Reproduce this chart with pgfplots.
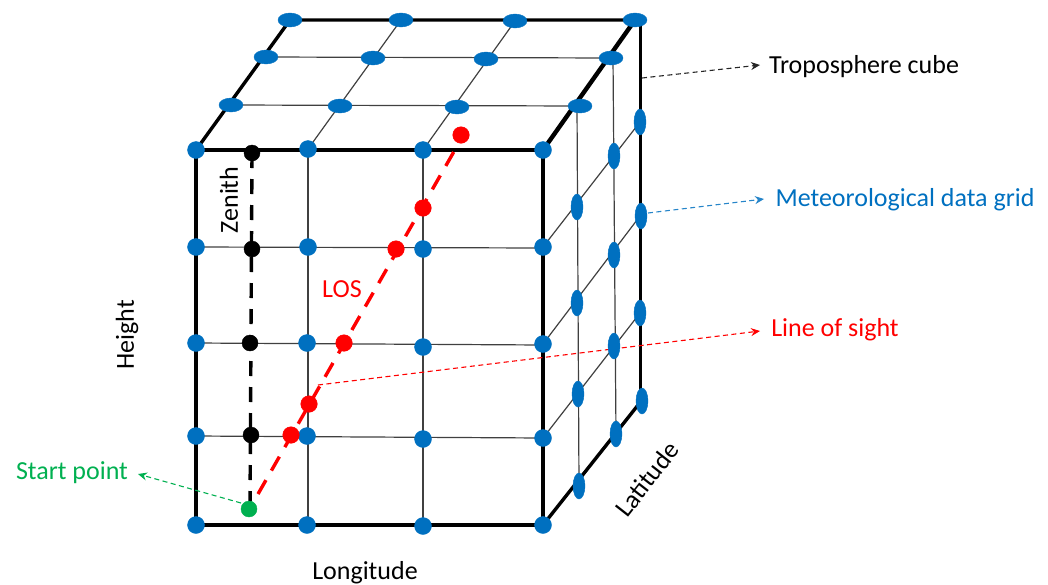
\documentclass[border=0pt]{standalone}
\usepackage{fontspec}
\setmainfont{Carlito}
\usepackage{pgfplots}
\pgfplotsset{compat=1.18}
\usetikzlibrary{arrows.meta}
\definecolor{gridblue}{HTML}{0070C0}
\definecolor{startgreen}{HTML}{00B050}
\definecolor{gridgray}{HTML}{404040}
\pgfplotsset{
  thin line/.style={gridgray,line width=1.2pt,no markers},
  heavy/.style={black,line width=3.4pt,no markers,line cap=round},
  leader/.style={line width=1.1pt,no markers,dash pattern=on 5pt off 3.5pt,-{Stealth[length=9pt,width=8pt]}},
}
\tikzset{lbl/.style={font=\fontsize{26}{28}\selectfont,inner sep=0pt}}
\begin{document}
\begin{tikzpicture}
\begin{axis}[
    scale only axis,
    width=1048pt,height=582pt,
    xmin=0,xmax=1048,ymin=0,ymax=582,
    y dir=reverse,
    axis lines=none,
    clip=false,
]
% keeps the page at the full canvas
\addplot[draw=none,no markers] coordinates {(0,0) (1048,582)};
% thin grid, top face
\addplot[thin line] coordinates {(266,57) (611,58)};
\addplot[thin line] coordinates {(231,105) (580,106)};
\addplot[thin line] coordinates {(308,149) (401,20)};
\addplot[thin line] coordinates {(423,150) (515,21)};
% thin grid, front face
\addplot[thin line] coordinates {(196,247) (543,248)};
\addplot[thin line] coordinates {(196,343) (543,345)};
\addplot[thin line] coordinates {(196,436) (543,438)};
\addplot[thin line] coordinates {(308,149) (308,525)};
\addplot[thin line] coordinates {(423,150) (423,526)};
% thin grid, side face
\addplot[thin line] coordinates {(577,106) (579,486)};
\addplot[thin line] coordinates {(613,58) (616,434)};
\addplot[thin line] coordinates {(543,247) (640,122)};
\addplot[thin line] coordinates {(543,344) (640,216)};
\addplot[thin line] coordinates {(543,438) (640,313)};
% heavy edges
\addplot[heavy] coordinates {(196,150) (543,150) (543,525) (196,525) (196,150)};
\addplot[heavy] coordinates {(196,150) (290,20) (635,20)};
\addplot[heavy,line width=4.4pt] coordinates {(543,150) (635,20)};
\addplot[heavy,line width=3pt] coordinates {(640,20) (640,400)};
\addplot[heavy] coordinates {(543,525) (642,400)};
% zenith and line of sight
\addplot[black,line width=3.4pt,no markers,dash pattern=on 15pt off 11pt] coordinates {(252,153) (250,509)};
\addplot[red,line width=3.4pt,no markers,dash pattern=on 16pt off 11pt] coordinates {(258,494) (456,148)};
% leaders
\addplot[leader,black!85] coordinates {(642,78) (760,65)};
\addplot[leader,gridblue!85] coordinates {(648,213) (764,199)};
\addplot[leader,red] coordinates {(318,385) (760,331)};
\addplot[leader,startgreen] coordinates {(241,503) (138,474)};
% top face nodes
\addplot[only marks,mark=*,gridblue,mark size=1pt,mark options={draw=gridblue,fill=gridblue,xscale=12,yscale=7}] coordinates {
  (290,20) (401,20) (515,21) (635,20)
  (266,57) (373,58) (486,59) (611,58)
  (231,105) (340,106) (457,107) (580,106)};
% side face nodes
\addplot[only marks,mark=*,gridblue,mark size=1pt,mark options={draw=gridblue,fill=gridblue,xscale=6,yscale=13}] coordinates {
  (577,207) (577,303) (578,394) (579,486)
  (614,156) (614,255) (614,346) (616,434)
  (640,122) (641,216) (640,313) (642,401)};
% front face nodes
\addplot[only marks,mark=*,gridblue,mark size=8.5pt,mark options={draw=gridblue,fill=gridblue}] coordinates {
  (196,150) (308,149) (423,150) (543,150)
  (196,247) (308,247) (423,249) (543,247)
  (196,343) (307,343) (423,347) (543,344)
  (196,436) (307,436) (423,439) (543,438)
  (196,525) (307,525) (423,526) (543,525)};
% zenith samples
\addplot[only marks,mark=*,black,mark size=8pt,mark options={fill=black}] coordinates {(252,153) (252,249) (250,343) (251,435)};
% slant samples
\addplot[only marks,mark=*,red,mark size=8.3pt,mark options={fill=red}] coordinates {(461,135) (423,208) (396,249) (344,343) (309,404) (291,435)};
\addplot[only marks,mark=*,startgreen,mark size=8pt,mark options={fill=startgreen}] coordinates {(249,509)};
% labels
\node[lbl] at (axis cs:864,67) {Troposphere cube};
\node[lbl,text=gridblue] at (axis cs:905,200) {Meteorological data grid};
\node[lbl,text=red] at (axis cs:835,330) {Line of sight};
\node[lbl,text=red] at (axis cs:342,289) {LOS};
\node[lbl,text=startgreen] at (axis cs:72,473) {Start point};
\node[lbl] at (axis cs:365,573) {Longitude};
\node[lbl,rotate=90] at (axis cs:229,200) {Zenith};
\node[lbl,rotate=90] at (axis cs:127,335) {Height};
\node[lbl,rotate=52] at (axis cs:647,479) {Latitude};
\end{axis}
\end{tikzpicture}
\end{document}
